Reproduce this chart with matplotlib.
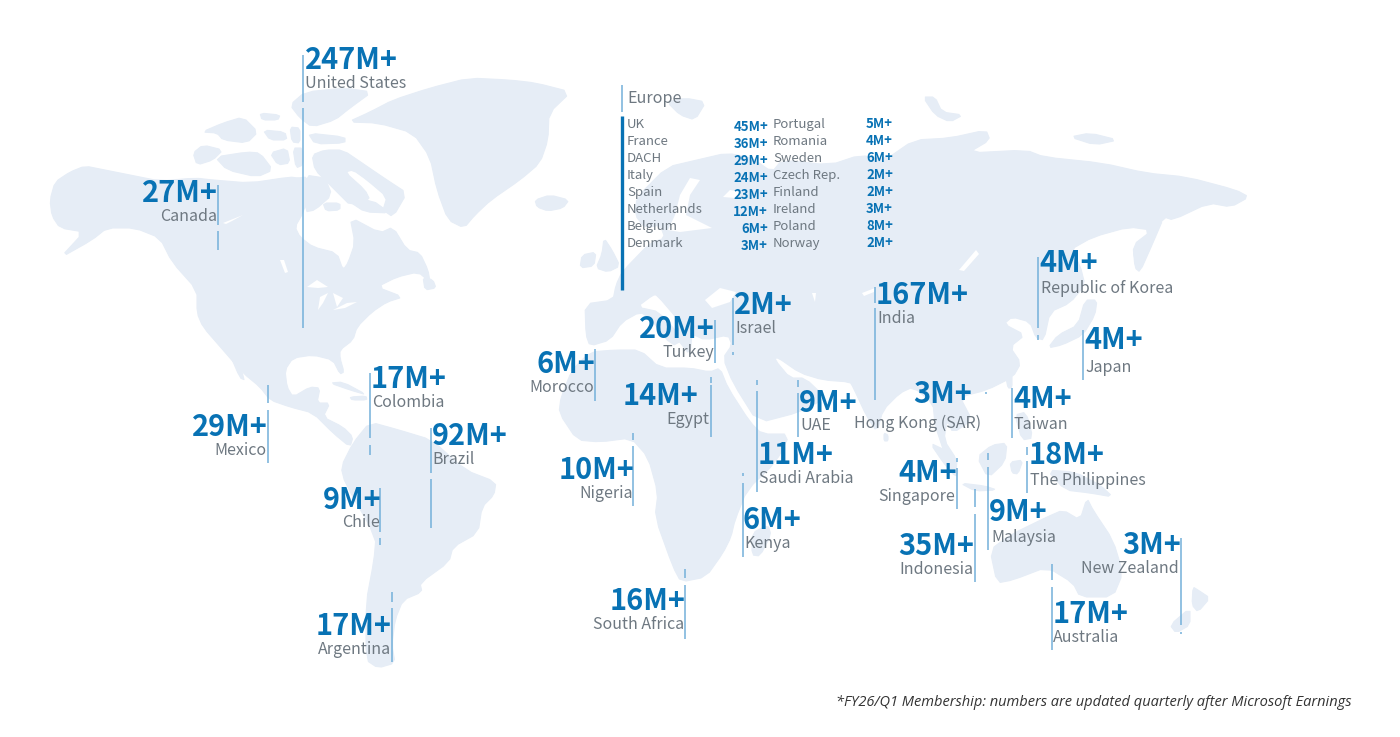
#!/usr/bin/env python3
"""World map of membership by country, drawn on a pixel-sized canvas."""

import matplotlib
matplotlib.use("Agg")
import matplotlib.pyplot as plt
from matplotlib.patches import Polygon

# ── Data ──────────────────────────────────────────────────────────────────────
COUNTRIES = ["United States", "Canada", "Mexico", "Colombia", "Brazil", "Chile",
             "Argentina", "Morocco", "Egypt", "Nigeria", "South Africa", "Kenya",
             "Saudi Arabia", "Turkey", "Israel", "UAE", "India",
             "Republic of Korea", "Japan", "Hong Kong (SAR)", "Taiwan",
             "The Philippines", "Singapore", "Indonesia", "Malaysia",
             "Australia", "New Zealand"]
MEMBERS = [247, 27, 29, 17, 92, 9, 17, 6, 14, 10, 16, 6, 11, 20, 2, 9, 167,
           4, 4, 3, 4, 18, 4, 35, 9, 17, 3]

EUROPE_LEFT = ["UK", "France", "DACH", "Italy", "Spain", "Netherlands",
               "Belgium", "Denmark"]
EUROPE_LEFT_VALUES = [45, 36, 29, 24, 23, 12, 6, 3]
EUROPE_RIGHT = ["Portugal", "Romania", "Sweden", "Czech Rep.", "Finland",
                "Ireland", "Poland", "Norway"]
EUROPE_RIGHT_VALUES = [5, 4, 6, 2, 2, 3, 8, 2]

FOOTNOTE = "*FY26/Q1 Membership: numbers are updated quarterly after Microsoft Earnings"

# ── Layout (pixels) ───────────────────────────────────────────────────────────
# align, value x, value y, label x, label y, leader x, leader segments
LAYOUT = [
    ("left", 305, 58, 305, 82, 303, [(55, 102), (108, 328)]),
    ("right", 218, 191, 217, 215, 218, [(185, 225), (231, 250)]),
    ("right", 268, 425, 267, 449, 268, [(385, 403), (410, 463)]),
    ("left", 371, 377, 372, 401, 370, [(373, 438), (445, 455)]),
    ("left", 432, 434, 432, 458, 431, [(428, 473), (479, 528)]),
    ("right", 381, 498, 380, 521, 380, [(488, 532), (538, 545)]),
    ("right", 392, 624, 391, 648, 392, [(592, 602), (608, 662)]),
    ("right", 595, 362, 594, 386, 595, [(349, 401)]),
    ("right", 698, 394, 709, 418, 711, [(377, 383), (385, 437)]),
    ("right", 634, 468, 633, 492, 633, [(433, 440), (446, 506)]),
    ("right", 685, 599, 684, 623, 685, [(569, 578), (585, 639)]),
    ("left", 743, 518, 744, 542, 743, [(473, 476), (483, 557)]),
    ("left", 758, 453, 759, 477, 757, [(380, 385), (391, 492)]),
    ("right", 715, 327, 714, 351, 715, [(320, 363)]),
    ("left", 734, 303, 735, 327, 733, [(298, 345), (352, 355)]),
    ("left", 799, 401, 800, 424, 798, [(380, 387), (393, 437)]),
    ("left", 876, 293, 877, 317, 875, [(287, 303), (308, 400)]),
    ("left", 1039, 261, 1041, 287, 1038, [(257, 328), (335, 340)]),
    ("left", 1084, 338, 1085, 366, 1083, [(330, 380)]),
    ("right", 972, 392, 981, 422, 986, [(392, 394)]),
    ("left", 1013, 397, 1014, 423, 1012, [(388, 438)]),
    ("left", 1029, 453, 1030, 479, 1027, [(447, 455), (461, 493)]),
    ("right", 957, 471, 955, 495, 957, [(458, 462), (468, 509)]),
    ("right", 974, 544, 973, 568, 975, [(489, 507), (514, 582)]),
    ("left", 989, 510, 991, 536, 988, [(453, 460), (467, 550)]),
    ("left", 1053, 612, 1053, 636, 1052, [(564, 580), (587, 650)]),
    ("right", 1181, 543, 1179, 567, 1181, [(538, 625), (632, 634)]),
]

EUROPE_ROWS = [123, 140, 157, 174, 191, 208, 225, 242]

# ── Map outlines (pixels) ─────────────────────────────────────────────────────
LAND = [
    # North America
    [(50, 200), (55, 182), (70, 172), (85, 166), (105, 170), (130, 175), (160, 181),
     (195, 178), (213, 180), (250, 183), (290, 177), (298, 178), (307, 177),
     (310, 190), (303, 213), (295, 227), (300, 237), (313, 247), (337, 253),
     (343, 270), (348, 263), (355, 243), (350, 217), (380, 233), (393, 227),
     (407, 250), (420, 253), (428, 270), (430, 282), (418, 272), (397, 277),
     (377, 287), (403, 297), (387, 302), (372, 312), (357, 327), (353, 340),
     (340, 350), (340, 358), (344, 372), (340, 374), (333, 360), (313, 355),
     (293, 358), (285, 370), (287, 387), (293, 397), (310, 387), (320, 388),
     (317, 403), (330, 403), (323, 417), (343, 427), (353, 437), (350, 447),
     (333, 433), (313, 413), (290, 407), (270, 400), (260, 387), (243, 373),
     (223, 350), (203, 327), (197, 313), (197, 290), (172, 262), (160, 238),
     (135, 228), (107, 228), (92, 240), (60, 258), (84, 232), (60, 228), (52, 216)],
    [(228, 350), (233, 350), (245, 380), (240, 378)],  # Baja
    [(423, 277), (433, 280), (436, 288), (425, 290)],  # Newfoundland
    # Greenland and Iceland
    [(348, 122), (370, 112), (393, 100), (430, 88), (469, 78), (510, 80), (536, 83),
     (571, 92), (549, 113), (548, 140), (540, 163), (520, 180), (491, 200),
     (475, 215), (464, 228), (448, 220), (437, 190), (430, 157), (413, 133), (378, 123)],
    [(535, 200), (550, 195), (569, 200), (563, 208), (548, 211), (537, 207)],
    # Canadian arctic
    [(312, 155), (325, 150), (343, 150), (365, 165), (387, 180), (407, 193), (393, 217),
     (383, 210), (387, 197), (367, 180), (353, 170), (345, 172), (365, 190),
     (370, 200), (350, 205), (340, 195), (330, 185), (315, 170)],
    [(305, 175), (325, 178), (332, 195), (315, 210), (305, 212)],
    [(323, 203), (340, 203), (340, 210), (326, 211)],
    [(350, 202), (372, 200), (390, 213), (365, 212)],
    [(290, 105), (305, 92), (345, 88), (372, 92), (350, 108), (335, 120), (312, 127), (300, 118)],
    [(308, 133), (345, 137), (345, 143), (315, 144)],
    [(202, 132), (223, 123), (243, 117), (258, 132), (247, 143), (223, 140), (217, 133)],
    [(260, 113), (280, 115), (278, 120), (262, 120)],
    [(263, 130), (285, 132), (287, 140), (270, 140)],
    [(290, 127), (300, 128), (300, 143), (292, 142)],
    [(215, 157), (247, 152), (260, 153), (273, 170), (257, 177), (227, 170)],
    [(193, 153), (203, 145), (223, 150), (213, 160), (197, 165)],
    [(270, 153), (287, 148), (290, 163), (278, 165)],
    [(293, 148), (303, 148), (303, 165), (296, 168)],
    # Caribbean
    [(330, 383), (343, 382), (367, 395), (350, 390)],
    [(350, 397), (366, 396), (367, 400), (352, 400)],
    # South America
    [(370, 422), (399, 430), (432, 440), (465, 470), (496, 482), (494, 495), (482, 507),
     (478, 533), (453, 547), (449, 562), (420, 583), (422, 592), (403, 600),
     (395, 620), (392, 645), (395, 663), (378, 668), (366, 660), (366, 603),
     (374, 560), (376, 537), (345, 483), (341, 467), (353, 443)],
    # Eurasia
    [(586, 335), (585, 304), (613, 300), (616, 285), (622, 272), (650, 243), (665, 238),
     (660, 225), (645, 228), (635, 215), (637, 197), (667, 167), (697, 160),
     (727, 153), (752, 158), (772, 172), (782, 160), (830, 165), (860, 155),
     (885, 160), (914, 140), (950, 138), (986, 130), (990, 140), (968, 153),
     (1026, 150), (1044, 157), (1102, 163), (1146, 173), (1187, 177), (1236, 190),
     (1249, 197), (1231, 207), (1209, 203), (1173, 220), (1164, 217), (1150, 240),
     (1137, 270), (1133, 250), (1151, 230), (1129, 227), (1093, 237), (1070, 250),
     (1080, 265), (1085, 285), (1070, 303), (1050, 312), (1044, 340), (1036, 338),
     (1030, 322), (1012, 317), (1004, 324), (1025, 335), (1010, 347), (1021, 363),
     (1013, 377), (987, 390), (960, 397), (972, 420), (953, 433), (947, 420),
     (944, 440), (957, 460), (956, 472), (945, 455), (935, 425), (933, 403),
     (913, 387), (900, 393), (883, 410), (877, 432), (867, 417), (853, 387),
     (850, 382), (823, 380), (800, 373), (777, 357), (775, 360), (790, 378),
     (805, 378), (826, 398), (800, 412), (758, 423), (733, 383), (723, 358),
     (732, 345), (728, 335), (705, 340), (692, 334), (690, 355), (678, 340),
     (680, 322), (657, 295), (653, 295), (637, 307), (660, 312), (683, 340),
     (672, 346), (650, 318), (640, 312), (622, 322), (610, 340), (590, 346)],
    # Africa
    [(561, 397), (572, 370), (590, 352), (615, 350), (640, 350), (660, 368), (690, 368),
     (710, 372), (720, 368), (728, 388), (750, 422), (762, 434), (790, 434),
     (776, 462), (747, 490), (735, 520), (731, 537), (723, 553), (706, 577),
     (681, 582), (673, 567), (655, 517), (658, 493), (648, 457), (631, 438),
     (600, 442), (577, 440), (559, 413)],
    [(752, 533), (768, 525), (771, 535), (760, 556), (752, 555)],
    # Islands of Europe and the Arctic
    [(604, 238), (612, 250), (620, 266), (608, 272), (596, 268), (602, 254)],
    [(582, 255), (596, 252), (594, 266), (580, 268)],
    [(667, 102), (685, 98), (706, 102), (695, 120), (680, 115)],
    [(923, 97), (935, 97), (942, 112), (963, 115), (950, 122), (935, 115)],
    [(1070, 137), (1090, 133), (1118, 140), (1095, 145)],
    # Japan, Sakhalin and neighbours
    [(1135, 268), (1133, 245), (1150, 232), (1164, 217), (1152, 245), (1140, 272)],
    [(1048, 348), (1058, 335), (1078, 325), (1085, 300), (1097, 300), (1095, 315),
     (1083, 335), (1062, 345)],
    [(1006, 378), (1012, 374), (1012, 388), (1008, 388)],
    # South-east Asia
    [(884, 433), (888, 435), (888, 441), (884, 441)],
    [(930, 443), (945, 450), (958, 470), (956, 477), (945, 465)],
    [(977, 457), (992, 445), (1007, 443), (1005, 462), (988, 478)],
    [(960, 483), (985, 486), (997, 490), (975, 491)],
    [(1010, 462), (1023, 460), (1018, 474), (1012, 473)],
    [(1015, 415), (1026, 412), (1033, 438), (1022, 440)],
    [(1047, 470), (1075, 472), (1100, 485), (1113, 497), (1090, 493), (1065, 490)],
    # Australia and New Zealand
    [(990, 550), (1010, 535), (1047, 517), (1063, 510), (1080, 520), (1087, 498),
     (1093, 510), (1113, 540), (1123, 573), (1113, 597), (1080, 597), (1073, 583),
     (1047, 567), (1013, 580), (997, 583)],
    [(1193, 587), (1198, 590), (1210, 598), (1198, 612), (1192, 605)],
    [(1170, 625), (1190, 608), (1190, 625), (1176, 633)],
]

WATER = [
    [(705, 300), (720, 288), (736, 292), (730, 302), (712, 308)],  # Black Sea
    [(812, 293), (816, 293), (815, 302)],  # Aral
    [(862, 293), (875, 288), (874, 292), (864, 296)],  # Balkhash
    [(959, 270), (976, 250), (979, 254), (964, 271)],  # Baikal
    [(680, 232), (712, 228), (700, 222), (686, 215), (690, 195), (700, 180),
     (690, 178), (680, 195), (675, 215), (668, 230)],  # Baltic
    [(723, 197), (730, 190), (740, 192), (735, 198)],  # Gulf of Finland
    [(307, 287), (317, 280), (328, 287), (318, 288)],  # Superior
    [(318, 310), (320, 297), (328, 293), (323, 303)],  # Michigan
    [(333, 293), (343, 298), (337, 307)],  # Huron
    [(333, 310), (347, 303), (357, 302), (345, 308)],  # Erie and Ontario
    [(280, 260), (284, 260), (288, 272), (285, 273)],  # Winnipeg
    [(223, 223), (243, 215), (232, 221), (226, 224)],  # Great Slave
]

MAP_COLOR = "#E6EDF6"
BLUE = "#0872B4"
GRAY = "#6E7881"
LEADER = "#74B0DA"

plt.rcParams["font.family"] = ["Noto Sans CJK SC", "DejaVu Sans"]


def soften(shape):
    """One pass of corner cutting so the outlines read less angular."""
    out = []
    for i, (x0, y0) in enumerate(shape):
        x1, y1 = shape[(i + 1) % len(shape)]
        out.append((0.8 * x0 + 0.2 * x1, 0.8 * y0 + 0.2 * y1))
        out.append((0.2 * x0 + 0.8 * x1, 0.2 * y0 + 0.8 * y1))
    return out


def main():
    fig = plt.figure(figsize=(14, 7.37), dpi=100, facecolor="white")
    ax = fig.add_axes([0, 0, 1, 1])
    ax.set_xlim(0, 1400)
    ax.set_ylim(737, 0)
    ax.axis("off")

    for shape in LAND:
        ax.add_patch(Polygon(soften(shape), closed=True, facecolor=MAP_COLOR,
                             edgecolor=MAP_COLOR, linewidth=0.8, joinstyle="round"))
    for shape in WATER:
        ax.add_patch(Polygon(shape, closed=True, facecolor="white", edgecolor="none"))

    for name, value, row in zip(COUNTRIES, MEMBERS, LAYOUT):
        align, vx, vy, lx, ly, line_x, segments = row
        for top, bottom in segments:
            ax.plot([line_x, line_x], [top, bottom], color=LEADER, lw=1.1,
                    solid_capstyle="butt")
        ax.text(vx, vy + 2, f"{value}M+", color=BLUE, fontsize=20.8, fontweight="bold",
                ha=align, va="center")
        ax.text(lx, ly + 1.5, name, color=GRAY, fontsize=11.5, ha=align, va="center")

    # Europe panel
    ax.plot([622, 622], [85, 112], color=LEADER, lw=1.1, solid_capstyle="butt")
    ax.plot([622, 622], [116, 290], color=BLUE, lw=2.4, solid_capstyle="butt")
    ax.text(627, 98, "Europe", color=GRAY, fontsize=11.6, ha="left", va="center")
    for i, y in enumerate(EUROPE_ROWS):
        ax.text(627, y + 1, EUROPE_LEFT[i], color=GRAY, fontsize=9.5, ha="left", va="center")
        ax.text(768, y + 4, f"{EUROPE_LEFT_VALUES[i]}M+", color=BLUE, fontsize=9.5,
                fontweight="bold", ha="right", va="center")
        ax.text(773, y + 1, EUROPE_RIGHT[i], color=GRAY, fontsize=9.5, ha="left", va="center")
        ax.text(893, y + 1, f"{EUROPE_RIGHT_VALUES[i]}M+", color=BLUE, fontsize=9.5,
                fontweight="bold", ha="right", va="center")

    ax.text(1352, 702, FOOTNOTE, color="#333333", fontsize=10.5, style="italic",
            family=["Open Sans", "DejaVu Sans"], ha="right", va="center")

    fig.savefig("out.png", dpi=100, facecolor="white")
    plt.close(fig)


if __name__ == "__main__":
    main()
